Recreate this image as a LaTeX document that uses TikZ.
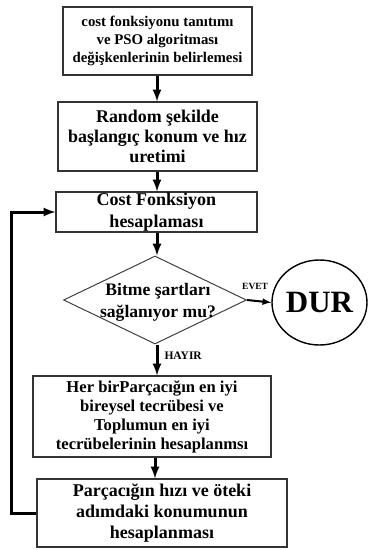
\documentclass[tikz,border=0pt]{standalone}
\usepackage{fontspec}
\setmainfont{Liberation Serif}
\usetikzlibrary{shapes.geometric, arrows}
\tikzstyle{process} = [rectangle, text centered, align=center, draw=black!80, line width=1.1pt, fill=white, font=\bfseries, inner sep=2pt]
\tikzstyle{decision} = [diamond, aspect=2.08, inner sep=0pt, minimum width=183pt, minimum height=88pt, draw=black!75, line width=1pt]
\tikzstyle{startstop} = [ellipse, minimum width=95pt, minimum height=85pt, draw=black, line width=1.4pt, font=\bfseries\fontsize{31}{31}\selectfont, inner sep=0pt]
\tikzstyle{lbl} = [font=\bfseries\fontsize{9.5}{9.5}\selectfont, inner sep=0pt]
\tikzstyle{arrow} = [line width=3pt,->,>=latex]

\begin{document}
\begin{tikzpicture}[x=1pt, y=1pt]
	\useasboundingbox (0,0) rectangle (368,-550);
	\node (init) [process, minimum width=189pt, minimum height=68pt, font=\bfseries\fontsize{14.8}{18}\selectfont] at (157.5,-41) {cost fonksiyonu tanıtımı\\ve PSO algoritması\\değişkenlerinin belirlemesi};
	\node (rand) [process, minimum width=199pt, minimum height=69pt, font=\bfseries\fontsize{17.9}{20}\selectfont] at (157.5,-136.5) {Random şekilde\\başlangıç konum ve hız\\uretimi};
	\node (cost) [process, minimum width=201pt, minimum height=40pt, inner sep=0pt, font=\bfseries\fontsize{18}{22}\selectfont] at (156.5,-212) {Cost Fonksiyon\\hesaplaması};
	\node (dec) [decision] at (155,-300) {};
	\node (dectext) [font=\bfseries\fontsize{17.6}{22}\selectfont, align=center, inner sep=0pt] at (158,-302) {Bitme şartları\\sağlanıyor mu?};
	\node (stop) [startstop] at (319.5,-302.5) {DUR};
	\node (best) [process, minimum width=238pt, minimum height=81pt, font=\bfseries\fontsize{16.6}{19}\selectfont] at (152,-416.5) {Her birParçacığın en iyi\\bireysel tecrübesi ve\\Toplumun en iyi\\tecrübelerinin hesaplanmsı};
	\node (move) [process, minimum width=250pt, minimum height=68pt, font=\bfseries\fontsize{18}{21}\selectfont] at (162,-513) {Parçacığın hızı ve öteki\\adımdaki konumunun\\hesaplanması};
	\coordinate (axis) at (157,0);
	\draw [arrow] (init.south -| axis) -- (rand.north -| axis);
	\draw [arrow] (rand.south -| axis) -- (cost.north -| axis);
	\draw [arrow] (cost.south -| axis) -- (dec.north -| axis);
	\draw [arrow, line width=2pt] (dec.east) -- node[lbl, above=11pt, xshift=-4pt]{EVET} (stop.west);
	\draw [arrow] (dec.south -| axis) -- node[lbl, right=6pt, yshift=4pt, font=\bfseries\fontsize{11.5}{11.5}\selectfont]{HAYIR} (best.north -| axis);
	\draw [arrow] (best.south -| 155,0) -- (move.north -| 155,0);
	\draw [arrow] (move.west) -- ++(-25,0) |- (cost.west);
\end{tikzpicture}
\end{document}
